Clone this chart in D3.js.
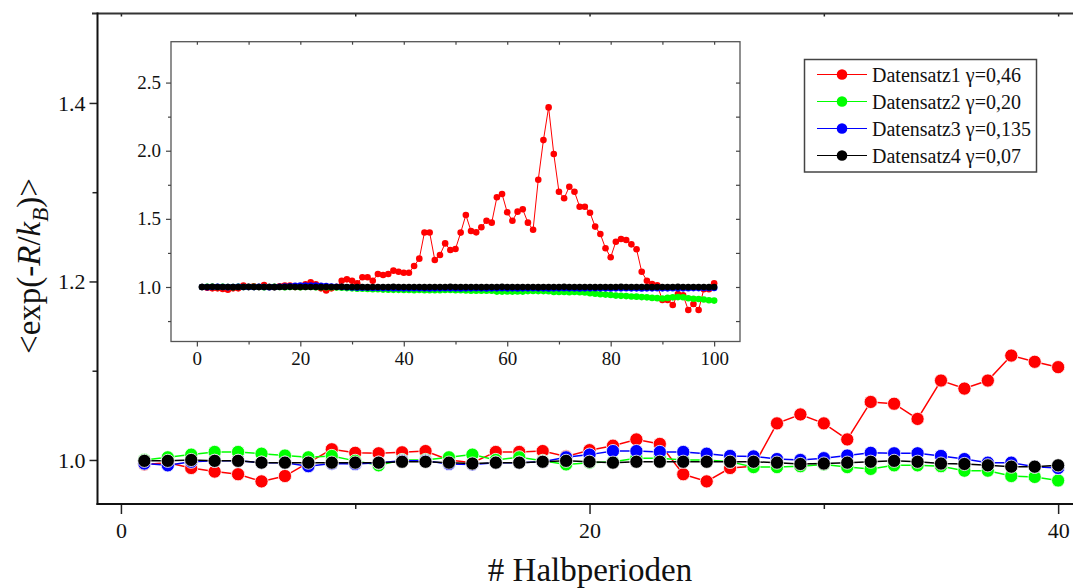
<!DOCTYPE html>
<html>
<head>
<meta charset="utf-8">
<script src="https://cdn.jsdelivr.net/npm/d3@7"></script>
<style>
    body { margin: 0; background: #fff; }
    text { font-family: "Liberation Serif", "Times New Roman", serif; fill: #111; }
</style>
</head>
<body>
<script>
// Hauptdiagramm: x = 1..40 Halbperioden
let halbperioden = d3.range(1, 41);

let satz1 = [0.995, 0.997, 0.991, 0.987, 0.984, 0.976, 0.982, 0.997, 1.012, 1.008,
    1.0075, 1.0086, 1.010, 1.000, 0.997, 1.009, 1.009, 1.010, 1.004, 1.011,
    1.016, 1.023, 1.018, 0.984, 0.976, 0.991, 0.993, 1.041, 1.051, 1.041,
    1.023, 1.065, 1.063, 1.046, 1.089, 1.080, 1.089, 1.117, 1.110, 1.104];
let satz2 = [1.000, 1.003, 1.006, 1.009, 1.009, 1.007, 1.005, 1.003, 1.0045, 0.999,
    0.994, 1.000, 1.000, 1.003, 1.006, 1.000, 1.003, 0.999, 0.995, 0.997,
    0.998, 1.002, 1.002, 1.000, 1.000, 0.998, 0.992, 0.992, 0.993, 0.995,
    0.992, 0.990, 0.994, 0.994, 0.993, 0.988, 0.988, 0.982, 0.981, 0.977];
let satz3 = [0.996, 0.994, 0.998, 0.999, 0.999, 0.997, 0.997, 0.993, 0.996, 0.9955,
    0.997, 0.999, 0.999, 0.9955, 0.995, 0.997, 0.997, 0.998, 1.003, 1.006,
    1.010, 1.010, 1.009, 1.009, 1.007, 1.0045, 1.004, 1.001, 1.000, 1.002,
    1.005, 1.008, 1.0075, 1.0075, 1.0045, 1.001, 0.997, 0.997, 0.9925, 0.991];
let satz4 = [0.999, 0.999, 1.000, 0.999, 0.999, 0.997, 0.997, 0.997, 0.997, 0.997,
    0.997, 0.998, 0.998, 0.997, 0.996, 0.997, 0.997, 0.998, 0.999, 0.998,
    0.997, 0.998, 0.998, 0.998, 0.998, 0.998, 0.998, 0.997, 0.9955, 0.996,
    0.997, 0.998, 0.999, 0.998, 0.996, 0.9955, 0.994, 0.9925, 0.9925, 0.994];

// Einschub: x = 1..100
let insetPerioden = d3.range(1, 101);

let inset1 = [1.000, 0.995, 0.990, 0.990, 0.985, 0.980, 0.990, 0.990, 1.010, 1.000,
    1.005, 1.000, 1.015, 1.000, 1.000, 1.005, 1.010, 1.010, 1.000, 1.000,
    1.020, 1.035, 1.020, 0.990, 0.975, 0.990, 1.000, 1.046, 1.056, 1.046,
    1.027, 1.071, 1.071, 1.046, 1.095, 1.088, 1.095, 1.120, 1.112, 1.105,
    1.105, 1.154, 1.208, 1.400, 1.400, 1.198, 1.235, 1.320, 1.271, 1.279,
    1.399, 1.528, 1.411, 1.401, 1.438, 1.486, 1.472, 1.658, 1.682, 1.548,
    1.486, 1.553, 1.570, 1.472, 1.420, 1.787, 2.078, 2.318, 1.976, 1.699,
    1.651, 1.736, 1.699, 1.589, 1.589, 1.545, 1.443, 1.389, 1.284, 1.218,
    1.332, 1.352, 1.345, 1.313, 1.277, 1.112, 1.046, 1.022, 1.012, 0.905,
    0.905, 0.868, 0.949, 0.939, 0.831, 0.875, 0.831, 0.983, 0.983, 1.027];
let inset2 = [1.000, 1.002, 1.001, 1.000, 1.001, 1.000, 0.999, 1.001, 1.000, 1.000,
    1.001, 1.000, 0.999, 1.000, 1.001, 1.000, 0.999, 1.000, 1.000, 0.999,
    1.000, 1.001, 0.999, 0.999, 0.999, 0.998, 0.996, 0.994, 0.992, 0.990,
    0.988, 0.987, 0.985, 0.984, 0.983, 0.981, 0.980, 0.979, 0.979, 0.978,
    0.978, 0.977, 0.978, 0.976, 0.977, 0.976, 0.977, 0.978, 0.978, 0.977,
    0.976, 0.975, 0.973, 0.973, 0.972, 0.973, 0.972, 0.966, 0.966, 0.967,
    0.966, 0.967, 0.966, 0.970, 0.971, 0.970, 0.970, 0.969, 0.964, 0.963,
    0.963, 0.962, 0.963, 0.962, 0.960, 0.954, 0.951, 0.947, 0.944, 0.941,
    0.937, 0.935, 0.933, 0.930, 0.929, 0.926, 0.924, 0.920, 0.918, 0.916,
    0.920, 0.924, 0.926, 0.925, 0.917, 0.914, 0.912, 0.908, 0.903, 0.900];
let inset3 = [1.000, 0.999, 1.000, 1.001, 1.000, 0.999, 1.000, 1.001, 1.000, 1.000,
    1.000, 1.001, 1.000, 0.999, 1.000, 1.002, 1.003, 1.005, 1.008, 1.010,
    1.010, 1.011, 1.010, 1.008, 1.006, 1.004, 1.002, 1.000, 0.998, 0.996,
    0.995, 0.995, 0.994, 0.993, 0.993, 0.992, 0.992, 0.991, 0.991, 0.990,
    0.990, 0.991, 0.990, 0.990, 0.989, 0.990, 0.990, 0.991, 0.990, 0.990,
    0.989, 0.990, 0.990, 0.991, 0.990, 0.989, 0.990, 0.990, 0.991, 0.990,
    0.990, 0.989, 0.990, 0.990, 0.991, 0.990, 0.990, 0.989, 0.990, 0.990,
    0.991, 0.990, 0.990, 0.989, 0.990, 0.990, 0.991, 0.990, 0.990, 0.989,
    0.990, 0.990, 0.991, 0.990, 0.990, 0.989, 0.990, 0.990, 0.991, 0.990,
    0.990, 0.991, 0.990, 0.990, 0.991, 0.992, 0.992, 0.993, 0.993, 0.993];
let inset4 = [1.000, 1.000, 1.001, 1.000, 1.000, 1.000, 0.999, 1.000, 1.000, 1.001,
    1.000, 1.000, 1.000, 1.000, 0.999, 1.000, 1.000, 1.001, 1.000, 1.000,
    1.000, 1.000, 1.000, 0.999, 1.000, 1.000, 1.000, 1.001, 1.000, 1.000,
    1.000, 1.000, 0.999, 1.000, 1.000, 1.000, 1.000, 1.001, 1.000, 1.000,
    1.000, 1.000, 1.000, 0.999, 1.000, 1.000, 1.000, 1.000, 1.001, 1.000,
    1.000, 1.000, 1.000, 1.000, 0.999, 1.000, 1.000, 1.000, 1.001, 1.000,
    1.000, 1.000, 1.000, 1.000, 1.000, 0.999, 1.000, 1.000, 1.000, 1.000,
    1.001, 1.000, 1.000, 1.000, 1.000, 1.000, 0.999, 1.000, 1.000, 1.000,
    1.000, 1.001, 1.000, 1.000, 1.000, 1.000, 1.000, 0.999, 1.000, 1.000,
    1.000, 1.000, 1.001, 1.000, 1.000, 1.000, 1.000, 1.000, 0.999, 1.000];

let namen = ["Datensatz1 γ=0,46", "Datensatz2 γ=0,20", "Datensatz3 γ=0,135", "Datensatz4 γ=0,07"];
let farben = ["#ff0000", "#00ff00", "#0000ff", "#000000"];

let xTicks = [0, 20, 40];
let xTicksKlein = [10, 30];
let yTicks = [1.0, 1.2, 1.4];
let yTicksKlein = [1.1, 1.3];
let xTicksInset = [0, 20, 40, 60, 80, 100];
let xTicksInsetKlein = [10, 30, 50, 70, 90];
let yTicksInset = [1.0, 1.5, 2.0, 2.5];
let yTicksInsetKlein = [0.75, 1.25, 1.75, 2.25];

let hauptSerien = [satz1, satz2, satz3, satz4];
let insetSerien = [inset1, inset2, inset3, inset4];

let svg = d3.select("body")
    .append("svg")
    .attr("width", 1073).attr("height", 588);

svg.append("rect").attr("width", 1073).attr("height", 588).attr("fill", "white");

// Skalen
let xScale = d3.scaleLinear().domain([-1, 42]).range([97.5, 1105]);
let yScale = d3.scaleLinear().domain([0.95, 1.5]).range([504.6, 13.7]);

let xInset = d3.scaleLinear().domain([-5, 105]).range([171, 740]);
let yInset = d3.scaleLinear().domain([0.6, 2.8]).range([341.5, 41.7]);

function achse(g, fontSize) {
    g.select(".domain").remove();
    g.selectAll("line").attr("stroke", "#222").attr("stroke-width", 1.5);
    g.selectAll("text").attr("font-size", fontSize).attr("font-family", "Liberation Serif").attr("fill", "#111");
}

// Achsen Hauptdiagramm
svg.append("g").attr("transform", "translate(0,504)")
    .call(d3.axisBottom(xScale).tickValues(xTicksKlein).tickSize(5).tickFormat(""))
    .call(achse, 22);
svg.append("g").attr("transform", "translate(0,504)")
    .call(d3.axisBottom(xScale).tickValues(xTicks).tickSize(10).tickPadding(8).tickFormat(d3.format("d")))
    .call(achse, 22);
svg.append("g").attr("transform", "translate(0,13.5)")
    .call(d3.axisBottom(xScale).tickValues(xTicks.concat(xTicksKlein)).tickSize(3).tickFormat(""))
    .call(achse, 22);
svg.append("g").attr("transform", "translate(97.5,0)")
    .call(d3.axisLeft(yScale).tickValues(yTicksKlein).tickSize(5).tickFormat(""))
    .call(achse, 22);
svg.append("g").attr("transform", "translate(97.5,0)")
    .call(d3.axisLeft(yScale).tickValues(yTicks).tickSize(8).tickPadding(4).tickFormat(d3.format(".1f")))
    .call(achse, 22);

// Rahmen
svg.append("line").attr("x1", 92).attr("x2", 1073).attr("y1", 13.5).attr("y2", 13.5)
    .attr("stroke", "#333").attr("stroke-width", 2);
svg.append("line").attr("x1", 97.5).attr("x2", 97.5).attr("y1", 12.5).attr("y2", 505)
    .attr("stroke", "#111").attr("stroke-width", 2);
svg.append("line").attr("x1", 96.5).attr("x2", 1073).attr("y1", 504).attr("y2", 504)
    .attr("stroke", "#111").attr("stroke-width", 2);

// Achsentitel
svg.append("text")
    .attr("x", 590).attr("y", 581)
    .attr("text-anchor", "middle")
    .attr("font-size", 33)
    .text("# Halbperioden");

let yTitel = svg.append("text")
    .attr("transform", "translate(40,266) rotate(-90)")
    .attr("text-anchor", "middle")
    .attr("font-size", 33);
yTitel.append("tspan").text("<exp(-");
yTitel.append("tspan").attr("font-style", "italic").text("R");
yTitel.append("tspan").text("/");
yTitel.append("tspan").attr("font-style", "italic").text("k");
yTitel.append("tspan").attr("font-style", "italic").attr("font-size", 23).attr("dy", 8).text("B");
yTitel.append("tspan").attr("dy", -8).text(")>");

// Linien und Punkte Hauptdiagramm
let linieHaupt = d3.line()
    .x(function (d, i) { return xScale(halbperioden[i]); })
    .y(function (d) { return yScale(d); });

hauptSerien.forEach(function (serie, k) {
    svg.append("path")
        .datum(serie)
        .attr("d", linieHaupt)
        .attr("fill", "none")
        .attr("stroke", farben[k])
        .attr("stroke-width", 1.5);
    svg.append("g").selectAll("circle")
        .data(serie).enter()
        .append("circle")
        .attr("cx", function (d, i) { return xScale(halbperioden[i]); })
        .attr("cy", function (d) { return yScale(d); })
        .attr("r", 6.6)
        .attr("fill", farben[k])
        .attr("stroke", "white")
        .attr("stroke-width", 0.8);
});

// Einschub
let inset = svg.append("g");
inset.append("rect")
    .attr("x", 171).attr("y", 41.7)
    .attr("width", 740 - 171).attr("height", 341.5 - 41.7)
    .attr("fill", "white")
    .attr("stroke", "#555").attr("stroke-width", 1.3);

inset.append("g").attr("transform", "translate(0,341.5)")
    .call(d3.axisBottom(xInset).tickValues(xTicksInsetKlein).tickSize(3).tickFormat(""))
    .call(achse, 19);
inset.append("g").attr("transform", "translate(0,341.5)")
    .call(d3.axisBottom(xInset).tickValues(xTicksInset).tickSize(5).tickPadding(5).tickFormat(d3.format("d")))
    .call(achse, 19);
inset.append("g").attr("transform", "translate(0,41.7)")
    .call(d3.axisBottom(xInset).tickValues(xTicksInset.concat(xTicksInsetKlein)).tickSize(3).tickFormat(""))
    .call(achse, 19);
inset.append("g").attr("transform", "translate(171,0)")
    .call(d3.axisLeft(yInset).tickValues(yTicksInsetKlein).tickSize(3).tickFormat(""))
    .call(achse, 19);
inset.append("g").attr("transform", "translate(171,0)")
    .call(d3.axisLeft(yInset).tickValues(yTicksInset).tickSize(5).tickPadding(5).tickFormat(d3.format(".1f")))
    .call(achse, 19);
inset.append("g").attr("transform", "translate(740,0)")
    .call(d3.axisLeft(yInset).tickValues(yTicksInset.concat(yTicksInsetKlein)).tickSize(4).tickFormat(""))
    .call(achse, 19);
inset.selectAll("line").attr("stroke", "#444").attr("stroke-width", 1.2);

let linieInset = d3.line()
    .x(function (d, i) { return xInset(insetPerioden[i]); })
    .y(function (d) { return yInset(d); });

insetSerien.forEach(function (serie, k) {
    inset.append("path")
        .datum(serie)
        .attr("d", linieInset)
        .attr("fill", "none")
        .attr("stroke", farben[k])
        .attr("stroke-width", 1);
    inset.append("g").selectAll("circle")
        .data(serie).enter()
        .append("circle")
        .attr("cx", function (d, i) { return xInset(insetPerioden[i]); })
        .attr("cy", function (d) { return yInset(d); })
        .attr("r", 3.3)
        .attr("fill", farben[k]);
});

// Legende
let legende = svg.append("g");
legende.append("rect")
    .attr("x", 804.5).attr("y", 59.5)
    .attr("width", 232).attr("height", 112.5)
    .attr("fill", "white")
    .attr("stroke", "#444").attr("stroke-width", 1.5);

let zeilen = legende.selectAll("g.zeile")
    .data(namen).enter()
    .append("g")
    .attr("class", "zeile")
    .attr("transform", function (d, i) { return "translate(0," + (74.5 + i * 27) + ")"; });

zeilen.append("line")
    .attr("x1", 817).attr("x2", 867)
    .attr("stroke", function (d, i) { return farben[i]; })
    .attr("stroke-width", 1);
zeilen.append("circle")
    .attr("cx", 842).attr("r", 5.3)
    .attr("fill", function (d, i) { return farben[i]; });
zeilen.append("text")
    .attr("x", 872).attr("dy", "0.35em")
    .attr("font-size", 20)
    .text(function (d) { return d; });
</script>
</body>
</html>
